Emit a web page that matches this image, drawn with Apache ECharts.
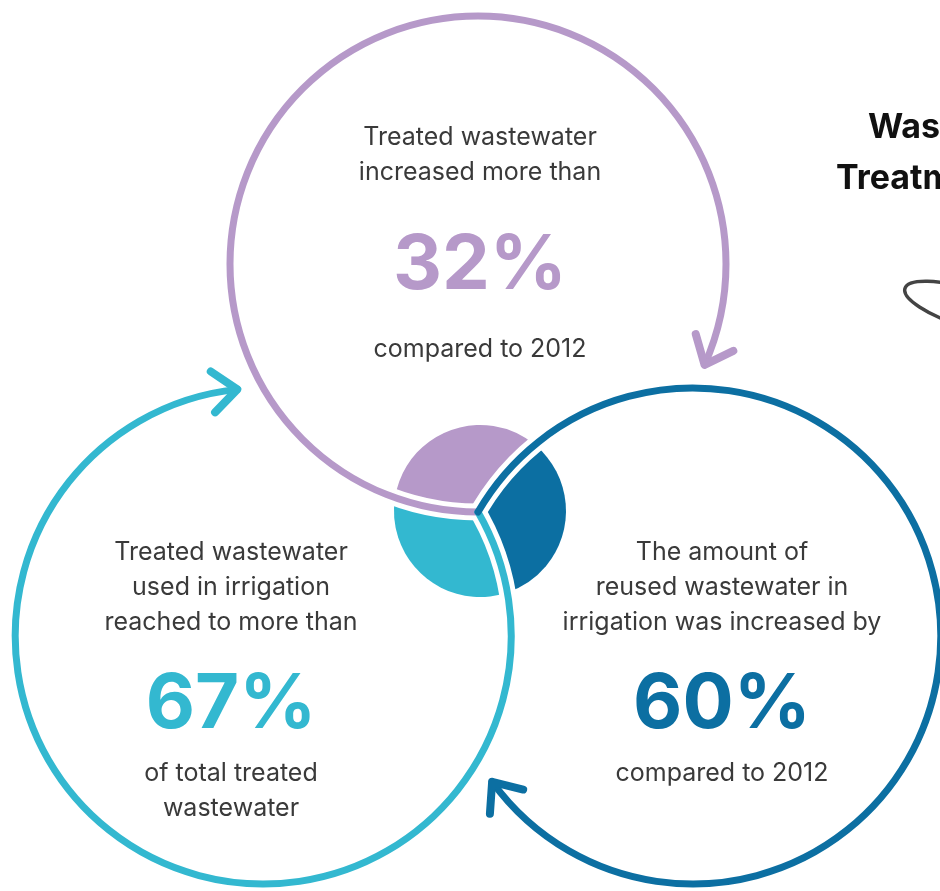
<!DOCTYPE html>
<html>
<head>
<meta charset="utf-8">
<script src="https://cdn.jsdelivr.net/npm/echarts@6/dist/echarts.min.js"></script>
<style>
  html, body { margin: 0; padding: 0; background: #fff; }
  #chart { width: 940px; height: 891px; }
</style>
</head>
<body>
<div id="chart"></div>
<script>
var percents = [32, 67, 60];
var introLines = [
    ['Treated wastewater', 'increased more than'],
    ['Treated wastewater', 'used in irrigation', 'reached to more than'],
    ['The amount of', 'reused wastewater in', 'irrigation was increased by']
];
var outroLines = [
    ['compared to 2012'],
    ['of total treated', 'wastewater'],
    ['compared to 2012']
];
// centre disc: purple, dark blue, teal sector sizes (degrees)
var discShares = [121, 122, 117];
var titleLines = ['Wastewater', 'Treatment'];

var colors = ['#b699c9', '#33b8d0', '#0c6fa2'];
var textColor = '#3a3a3a';
var fontFamily = "Inter, 'Liberation Sans', Arial, sans-serif";

function render_infographic() {
    var dom = document.getElementById('chart');
    var myChart = echarts.init(dom, null, { renderer: 'canvas' });

    // all three rings pass through the same junction point
    var J = [478, 512];
    var R = 248;
    var centreDirs = [270, 150, 30];   // direction from junction to each ring centre
    var sweep = 294;                    // how far each ring runs before its arrow
    var rad = Math.PI / 180;

    // text layout per ring: x centre, intro line ys, percent y, outro ys
    var layout = [
        { x: 480, intro: [137, 172], pct: 266, outro: [349] },
        { x: 231, intro: [552, 587, 622], pct: 705, outro: [773, 808] },
        { x: 722, intro: [552, 587, 622], pct: 705, outro: [773] }
    ];

    var elements = [];
    var halos = [];
    var rings = [];

    centreDirs.forEach(function (dir, i) {
        var cx = J[0] + R * Math.cos(dir * rad);
        var cy = J[1] + R * Math.sin(dir * rad);
        var start = dir + 180;
        var end = start + sweep;

        // white halo over the disc so the ring cuts it into sectors
        halos.push({
            type: 'arc',
            shape: { cx: cx, cy: cy, r: R, startAngle: (start - 2) * rad, endAngle: (start + 24) * rad, clockwise: true },
            style: { stroke: '#fff', lineWidth: 17, fill: 'none' },
            z: 10
        });

        rings.push({
            type: 'arc',
            shape: { cx: cx, cy: cy, r: R, startAngle: start * rad, endAngle: end * rad, clockwise: true },
            style: { stroke: colors[i], lineWidth: 7, fill: 'none', lineCap: 'round' },
            z: 11
        });

        // arrow head at the end of the ring
        var tip = [cx + R * Math.cos(end * rad), cy + R * Math.sin(end * rad)];
        var back = end - 90;
        var len = 32;
        var a1 = [tip[0] + len * Math.cos((back + 40) * rad), tip[1] + len * Math.sin((back + 40) * rad)];
        var a2 = [tip[0] + len * Math.cos((back - 40) * rad), tip[1] + len * Math.sin((back - 40) * rad)];
        rings.push({
            type: 'polyline',
            shape: { points: [a1, tip, a2] },
            style: { stroke: colors[i], lineWidth: 8, fill: 'none', lineCap: 'round', lineJoin: 'round' },
            z: 11
        });

        var L = layout[i];
        introLines[i].forEach(function (t, k) {
            elements.push(textEl(t, L.x, L.intro[k], '25px ' + fontFamily, textColor));
        });
        elements.push(textEl(percents[i] + '%', L.x, L.pct, 'bold 76px ' + fontFamily, colors[i]));
        outroLines[i].forEach(function (t, k) {
            elements.push(textEl(t, L.x, L.outro[k], '25px ' + fontFamily, textColor));
        });
    });

    function textEl(t, x, y, font, fill, align) {
        return {
            type: 'text',
            x: x,
            y: y,
            style: {
                text: t, font: font, fill: fill,
                textAlign: align || 'center', align: align || 'center',
                textVerticalAlign: 'middle', verticalAlign: 'middle'
            },
            z: 12
        };
    }

    // cropped title at the right edge
    elements.push(textEl(titleLines[0], 868, 128, 'bold 34px ' + fontFamily, '#111', 'left'));
    elements.push(textEl(titleLines[1], 836, 179, 'bold 34px ' + fontFamily, '#111', 'left'));

    // scribble under the title
    elements.push({
        type: 'ellipse',
        x: 968, y: 308,
        rotation: -0.3,
        shape: { cx: 0, cy: 0, rx: 66, ry: 19 },
        style: { stroke: '#444', lineWidth: 3.5, fill: 'none' },
        z: 12
    });

    var option = {
        backgroundColor: '#fff',
        animation: false,
        graphic: { elements: halos.concat(rings).concat(elements) },
        series: [
            {
                type: 'pie',
                center: [480, 511],
                radius: [0, 86],
                startAngle: 171,
                clockwise: true,
                silent: true,
                label: { show: false },
                labelLine: { show: false },
                data: discShares.map(function (v, k) {
                    return { value: v, itemStyle: { color: [colors[0], colors[2], colors[1]][k] } };
                })
            }
        ]
    };
    myChart.setOption(option);
}

render_infographic();
</script>
</body>
</html>
